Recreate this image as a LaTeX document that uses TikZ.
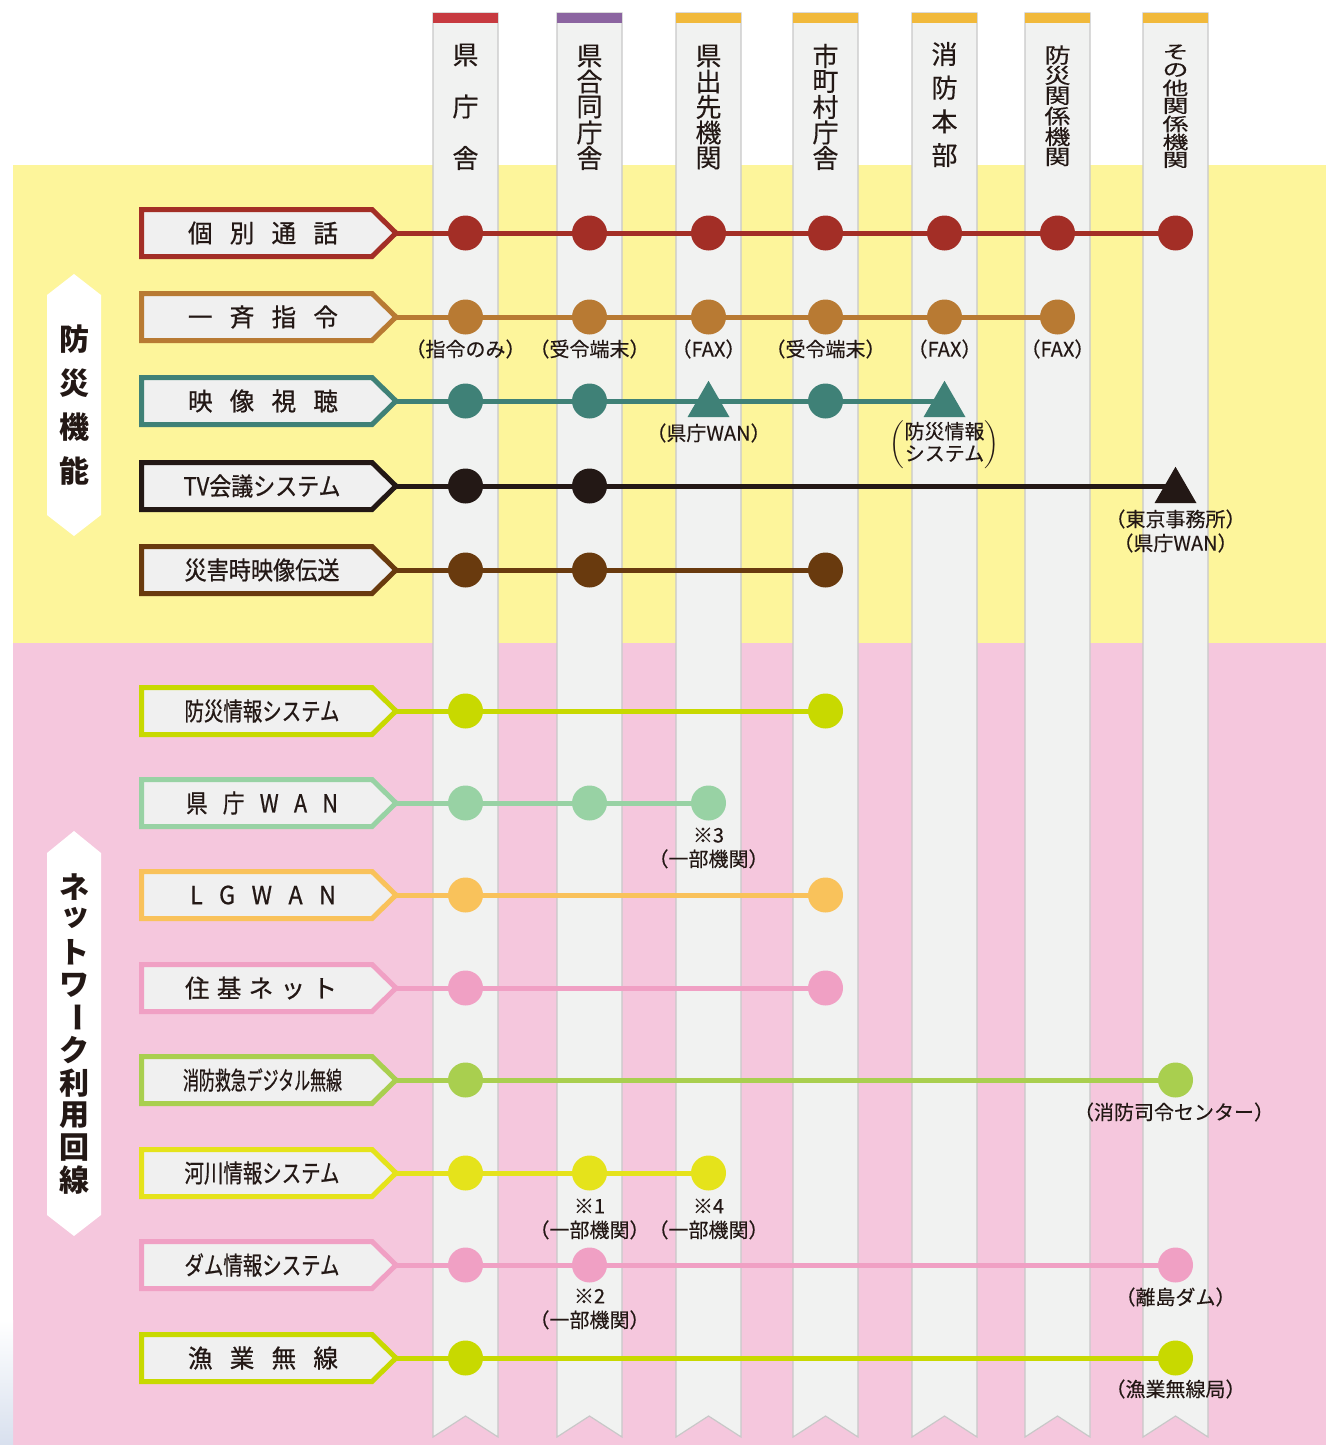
\documentclass[tikz,border=0pt]{standalone}
\usepackage{fontspec}
\setmainfont{Noto Sans CJK JP}
\newfontfamily\lblfont[FakeBold=0.7]{Noto Sans CJK JP}
\newfontfamily\notefont[FakeBold=0.3]{Noto Sans CJK JP}
\usepackage{graphicx}
\usetikzlibrary{shapes.geometric}
\pgfdeclarelayer{bgl}
\pgfdeclarelayer{linel}
\pgfsetlayers{bgl,linel,main}
\definecolor{txt}{HTML}{231815}
\definecolor{bgY}{HTML}{FDF59B}
\definecolor{bgP}{HTML}{F5C7DD}
\definecolor{colF}{HTML}{F1F2F1}
\definecolor{colE}{HTML}{C8C8C8}
\definecolor{bandR}{HTML}{C73A40}
\definecolor{bandP}{HTML}{8B64A0}
\definecolor{bandO}{HTML}{F1B93B}
\definecolor{lblF}{HTML}{F0F0F0}
\definecolor{cKobetsu}{HTML}{A32E26}
\definecolor{cIssei}{HTML}{B87A33}
\definecolor{cEizo}{HTML}{3F8177}
\definecolor{cTV}{HTML}{231815}
\definecolor{cSaigai}{HTML}{693A0E}
\definecolor{cBosai}{HTML}{C8D900}
\definecolor{cKencho}{HTML}{98D2A4}
\definecolor{cLG}{HTML}{F9C25B}
\definecolor{cJuki}{HTML}{F0A0C4}
\definecolor{cShobo}{HTML}{A9CF4F}
\definecolor{cKasen}{HTML}{E5E31B}
\definecolor{cDam}{HTML}{F0A0C4}
\definecolor{cGyogyo}{HTML}{C8D900}
\definecolor{edgeB}{HTML}{D8E0EE}
\newcommand\lgap{\hspace{0.7em}}
\newcommand\lbltext[2]{\resizebox{#1pt}{\height}{#2}}
\newcommand\lblbox[3]{%
  \draw[line width=2.5pt, draw=#2, fill=lblF] (141.5,{#3-23.5}) -- (372,{#3-23.5}) -- (396,#3) -- (372,{#3+23.5}) -- (141.5,{#3+23.5}) -- cycle;
  \coordinate (T#1) at (396,#3);}
\newcommand\rowdots[4]{\foreach \k in {#4}{\pgfmathsetmacro\xx{{465.5,589.5,708.5,825.5,944.5,1057.5,1175.5}[\k-1]}\node[dot=#2] (r#1c\k) at (\xx,#3) {};}}
\begin{document}
\begin{tikzpicture}[x=0.5pt,y=-0.5pt,
  lbltxt/.style={inner sep=0pt, text=txt, font=\lblfont\fontsize{12.5pt}{15pt}\selectfont},
  dot/.style={circle, fill=#1, minimum size=17.5pt, inner sep=0pt},
  tri/.style={regular polygon, regular polygon sides=3, fill=#1, minimum size=24.25pt, inner sep=0pt},
  conn/.style={line width=2.5pt, draw=#1},
  note/.style={font=\notefont\fontsize{10pt}{12pt}\selectfont, text=txt, inner sep=0pt, align=center},
  colhead/.style={font=\notefont\fontsize{13pt}{13pt}\selectfont, text=txt, inner sep=0pt},
  sidech/.style={font=\bfseries\fontsize{15pt}{15pt}\selectfont, text=txt, inner sep=0pt}]
\useasboundingbox (0,0) rectangle (1326,1445);
\begin{pgfonlayer}{bgl}
  \fill[white] (0,0) rectangle (1326,1445);
  \fill[bgY] (13,165) rectangle (1326,643);
  \fill[bgP] (13,643) rectangle (1326,1445);
  \shade[top color=white, bottom color=edgeB] (0,1320) rectangle (13,1445);
  \foreach \x/\b in {433/bandR,557/bandP,676/bandO,793/bandO,912/bandO,1025/bandO,1143/bandO} {
    \draw[colE, fill=colF, line width=0.6pt] (\x,13) -- (\x+65,13) -- (\x+65,1437) -- (\x+32.5,1416) -- (\x,1437) -- cycle;
    \fill[\b] (\x,13) rectangle (\x+65,23);
  }
  % side labels
  \fill[white] (47,295) -- (74,274) -- (101,295) -- (101,515) -- (74,536) -- (47,515) -- cycle;
  \fill[white] (47,853) -- (74,831) -- (101,853) -- (101,1215) -- (74,1236) -- (47,1215) -- cycle;
\end{pgfonlayer}
% column headers
\foreach \c [count=\i] in {県,庁,舎} \node[colhead] (ha\i) at (465.5,{55+51.5*(\i-1)}) {\c};
\foreach \c [count=\i] in {県,合,同,庁,舎} \node[colhead] (hb\i) at (589.5,{56+25.5*(\i-1)}) {\c};
\foreach \c [count=\i] in {県,出,先,機,関} \node[colhead] (hc\i) at (708.5,{56+25.5*(\i-1)}) {\c};
\foreach \c [count=\i] in {市,町,村,庁,舎} \node[colhead] (hd\i) at (825.5,{56+25.5*(\i-1)}) {\c};
\foreach \c [count=\i] in {消,防,本,部} \node[colhead] (he\i) at (944.5,{54+33.7*(\i-1)}) {\c};
\foreach \c [count=\i] in {防,災,関,係,機,関} \node[colhead] (hf\i) at (1057.5,{55+20.4*(\i-1)}) {\scalebox{1}[0.8]{\c}};
\foreach \c [count=\i] in {そ,の,他,関,係,機,関} \node[colhead] (hg\i) at (1175.5,{52+18*(\i-1)}) {\scalebox{1}[0.7]{\c}};
% side label texts
\foreach \c [count=\i] in {防,災,機,能} \node[sidech] (sa\i) at (74,{339+44*(\i-1)}) {\c};
\node[sidech] (sb1) at (74,887) {ネ};
\node[sidech] (sb2) at (76,918) {ッ};
\node[sidech] (sb3) at (74,952) {ト};
\node[sidech] (sb4) at (74,985) {ワ};
\node[sidech, rotate=-90] (sb5) at (74,1017) {ー};
\node[sidech] (sb6) at (74,1050) {ク};
\node[sidech] (sb7) at (74,1083) {利};
\node[sidech] (sb8) at (74,1115) {用};
\node[sidech] (sb9) at (74,1148) {回};
\node[sidech] (sb10) at (74,1180) {線};
% rows
\lblbox{1}{cKobetsu}{233}
\node[lbltxt] (L1) at (263,233) {\lbltext{75}{個\lgap 別\lgap 通\lgap 話}};
\rowdots{1}{cKobetsu}{233}{1,2,3,4,5,6,7}
\lblbox{2}{cIssei}{317}
\node[lbltxt] (L2) at (263,317) {\lbltext{75}{一\lgap 斉\lgap 指\lgap 令}};
\rowdots{2}{cIssei}{317}{1,2,3,4,5,6}
\lblbox{3}{cEizo}{401}
\node[lbltxt] (L3) at (263,401) {\lbltext{75}{映\lgap 像\lgap 視\lgap 聴}};
\rowdots{3}{cEizo}{401}{1,2,4}
\node[tri=cEizo] (r3c3) at (708.5,405) {};
\node[tri=cEizo] (r3c5) at (944.5,405) {};
\lblbox{4}{cTV}{486}
\node[lbltxt] (L4) at (262,486) {\lbltext{78.5}{TV会議システム}};
\rowdots{4}{cTV}{486}{1,2}
\node[tri=cTV] (r4c7) at (1175.5,491) {};
\lblbox{5}{cSaigai}{570}
\node[lbltxt] (L5) at (262,570) {\lbltext{77.5}{災害時映像伝送}};
\rowdots{5}{cSaigai}{570}{1,2,4}
\lblbox{6}{cBosai}{711}
\node[lbltxt] (L6) at (262,711) {\lbltext{77.5}{防災情報システム}};
\rowdots{6}{cBosai}{711}{1,4}
\lblbox{7}{cKencho}{803}
\node[lbltxt] (L7) at (262,803) {\lbltext{76}{県\lgap 庁\lgap W\lgap A\lgap N}};
\rowdots{7}{cKencho}{803}{1,2,3}
\lblbox{8}{cLG}{895}
\node[lbltxt] (L8) at (263,895) {\lbltext{73}{L\lgap G\lgap W\lgap A\lgap N}};
\rowdots{8}{cLG}{895}{1,4}
\lblbox{9}{cJuki}{988}
\node[lbltxt] (L9) at (261,988) {\lbltext{76}{住\hspace{0.3em}基\hspace{0.3em}ネ\hspace{0.3em}ッ\hspace{0.3em}ト}};
\rowdots{9}{cJuki}{988}{1,4}
\lblbox{10}{cShobo}{1080}
\node[lbltxt] (L10) at (262.5,1080) {\lbltext{79.5}{消防救急デジタル無線}};
\rowdots{10}{cShobo}{1080}{1,7}
\lblbox{11}{cKasen}{1173}
\node[lbltxt] (L11) at (262,1173) {\lbltext{77.5}{河川情報システム}};
\rowdots{11}{cKasen}{1173}{1,2,3}
\lblbox{12}{cDam}{1265}
\node[lbltxt] (L12) at (262,1265) {\lbltext{77.5}{ダム情報システム}};
\rowdots{12}{cDam}{1265}{1,2,7}
\lblbox{13}{cGyogyo}{1358}
\node[lbltxt] (L13) at (263,1358) {\lbltext{75}{漁\lgap 業\lgap 無\lgap 線}};
\rowdots{13}{cGyogyo}{1358}{1,7}
% connectors
\begin{pgfonlayer}{linel}
  \draw[conn=cKobetsu] (T1) -- (r1c7.center);
  \draw[conn=cIssei] (T2) -- (r2c6.center);
  \draw[conn=cEizo] (T3) -- (r3c5 |- T3);
  \draw[conn=cTV] (T4) -- (r4c7 |- T4);
  \draw[conn=cSaigai] (T5) -- (r5c4.center);
  \draw[conn=cBosai] (T6) -- (r6c4.center);
  \draw[conn=cKencho] (T7) -- (r7c3.center);
  \draw[conn=cLG] (T8) -- (r8c4.center);
  \draw[conn=cJuki] (T9) -- (r9c4.center);
  \draw[conn=cShobo] (T10) -- (r10c7.center);
  \draw[conn=cKasen] (T11) -- (r11c3.center);
  \draw[conn=cDam] (T12) -- (r12c7.center);
  \draw[conn=cGyogyo] (T13) -- (r13c7.center);
\end{pgfonlayer}
% notes
\node[note] (n1) at (465.5,349) {（指令のみ）};
\node[note] (n2) at (589.5,349) {（受令端末）};
\node[note] (n3) at (708.5,349) {（FAX）};
\node[note] (n4) at (825.5,349) {（受令端末）};
\node[note] (n5) at (944.5,349) {（FAX）};
\node[note] (n6) at (1057.5,349) {（FAX）};
\node[note] (n7) at (708.5,433) {（県庁WAN）};
\node[note] (n8) at (944.5,445) {$\left(\begin{tabular}{@{}c@{}}防災情報\\[-1pt]システム\end{tabular}\right)$};
\node[note] (n9) at (1175.5,531) {（東京事務所）\\（県庁WAN）};
\node[note] (n10) at (708.5,848) {※3\\（一部機関）};
\node[note] (n11) at (1174,1112) {（消防司令センター）};
\node[note] (n12) at (589.5,1219) {※1\\（一部機関）};
\node[note] (n13) at (708.5,1219) {※4\\（一部機関）};
\node[note] (n14) at (589.5,1309) {※2\\（一部機関）};
\node[note] (n15) at (1175.5,1297) {（離島ダム）};
\node[note] (n16) at (1175.5,1389) {（漁業無線局）};
\end{tikzpicture}
\end{document}
